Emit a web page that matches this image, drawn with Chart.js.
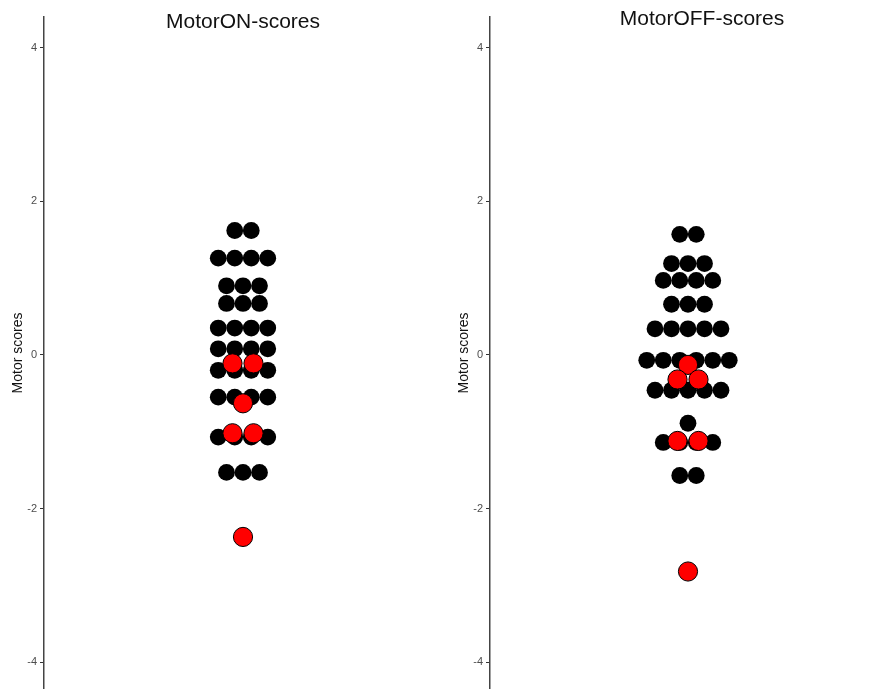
<!DOCTYPE html>
<html>
<head>
<meta charset="utf-8">
<script src="https://cdn.jsdelivr.net/npm/chart.js@4/dist/chart.umd.min.js"></script>
<style>
  html, body { margin: 0; padding: 0; background: #fff; overflow: hidden; }
  #wrap { position: relative; width: 876px; height: 689px; }
  .panel { position: absolute; top: 0; height: 689px; }
  .title {
    position: absolute;
    font-family: "Liberation Sans", Arial, sans-serif;
    font-size: 21px; line-height: 21px; color: #111;
    white-space: nowrap; transform: translateX(-50%);
  }
</style>
</head>
<body>
<div id="wrap">
  <div class="panel" style="left:0;width:440px"><canvas id="cOn"></canvas></div>
  <div class="panel" style="left:446px;width:430px"><canvas id="cOff"></canvas></div>
  <div class="title" id="tOn" style="left:243px;top:10px"></div>
  <div class="title" id="tOff" style="left:702px;top:7px"></div>
</div>
<script>
// Panel titles and the shared y axis
const panelTitles = ['MotorON-scores', 'MotorOFF-scores'];
const axisTitle = 'Motor scores';
const tickValues = [-4, -2, 0, 2, 4];
const tickLabels = ['-4', '-2', '0', '2', '4'];

// Motor scores, ON condition
const onBlack = [
  1.62, 1.62,
  1.26, 1.26, 1.26, 1.26,
  0.90, 0.90, 0.90,
  0.67, 0.67, 0.67,
  0.35, 0.35, 0.35, 0.35,
  0.08, 0.08, 0.08, 0.08,
  -0.20, -0.20, -0.20, -0.20,
  -0.55, -0.55, -0.55, -0.55,
  -1.07, -1.07, -1.07, -1.07,
  -1.53, -1.53, -1.53
];
const onRed = [-0.11, -0.11, -0.63, -1.02, -1.02, -2.37];

// Motor scores, OFF condition
const offBlack = [
  1.57, 1.57,
  1.19, 1.19, 1.19,
  0.97, 0.97, 0.97, 0.97,
  0.66, 0.66, 0.66,
  0.34, 0.34, 0.34, 0.34, 0.34,
  -0.07, -0.07, -0.07, -0.07, -0.07, -0.07,
  -0.46, -0.46, -0.46, -0.46, -0.46,
  -0.89,
  -1.14, -1.14, -1.14, -1.14,
  -1.57, -1.57
];
const offRed = [-0.13, -0.32, -0.32, -1.12, -1.12, -2.82];

// Spread points sharing a value side by side, centred on x = 0
function swarm(values, step) {
  const counts = {}, seen = {};
  values.forEach(v => { counts[v] = (counts[v] || 0) + 1; });
  return values.map(v => {
    seen[v] = (seen[v] === undefined) ? 0 : seen[v] + 1;
    return { x: (seen[v] - (counts[v] - 1) / 2) * step, y: v };
  });
}

const FONT = 'Liberation Sans, Arial, sans-serif';

function makePanel(id, black, red, xMin, xMax) {
  return new Chart(document.getElementById(id), {
    type: 'scatter',
    data: {
      datasets: [
        {
          data: swarm(red, 21),
          order: 0,
          pointRadius: 9.6,
          pointHoverRadius: 9.6,
          backgroundColor: '#ff0000',
          borderColor: '#000',
          borderWidth: 1
        },
        {
          data: swarm(black, 16.5),
          order: 1,
          pointRadius: 8.4,
          pointHoverRadius: 8.4,
          backgroundColor: '#000',
          borderColor: '#000',
          borderWidth: 0
        }
      ]
    },
    options: {
      responsive: true,
      maintainAspectRatio: false,
      animation: false,
      events: [],
      layout: { autoPadding: false, padding: { top: 17, bottom: 0, left: 0, right: 0 } },
      plugins: { legend: { display: false }, tooltip: { enabled: false }, title: { display: false } },
      scales: {
        x: { type: 'linear', display: false, min: xMin, max: xMax },
        y: {
          type: 'linear',
          min: -4.35,
          max: 4.4,
          afterBuildTicks: s => { s.ticks = tickValues.map(v => ({ value: v })); },
          afterFit: s => { s.width = 44; s.paddingTop = 0; s.paddingBottom = 0; },
          ticks: {
            callback: (v, i) => tickLabels[i],
            color: '#4d4d4d',
            font: { family: FONT, size: 11 },
            padding: 3
          },
          grid: { drawOnChartArea: false, drawTicks: true, tickLength: 4, tickColor: '#333', tickWidth: 1 },
          border: { display: true, color: '#444', width: 1.5 },
          title: {
            display: true,
            text: axisTitle,
            color: '#111',
            font: { family: FONT, size: 14 },
            padding: { top: 10, bottom: 0 }
          }
        }
      }
    }
  });
}

document.getElementById('tOn').textContent = panelTitles[0];
document.getElementById('tOff').textContent = panelTitles[1];
makePanel('cOn', onBlack, onRed, -199, 197);
makePanel('cOff', offBlack, offRed, -198, 188);
</script>
</body>
</html>
